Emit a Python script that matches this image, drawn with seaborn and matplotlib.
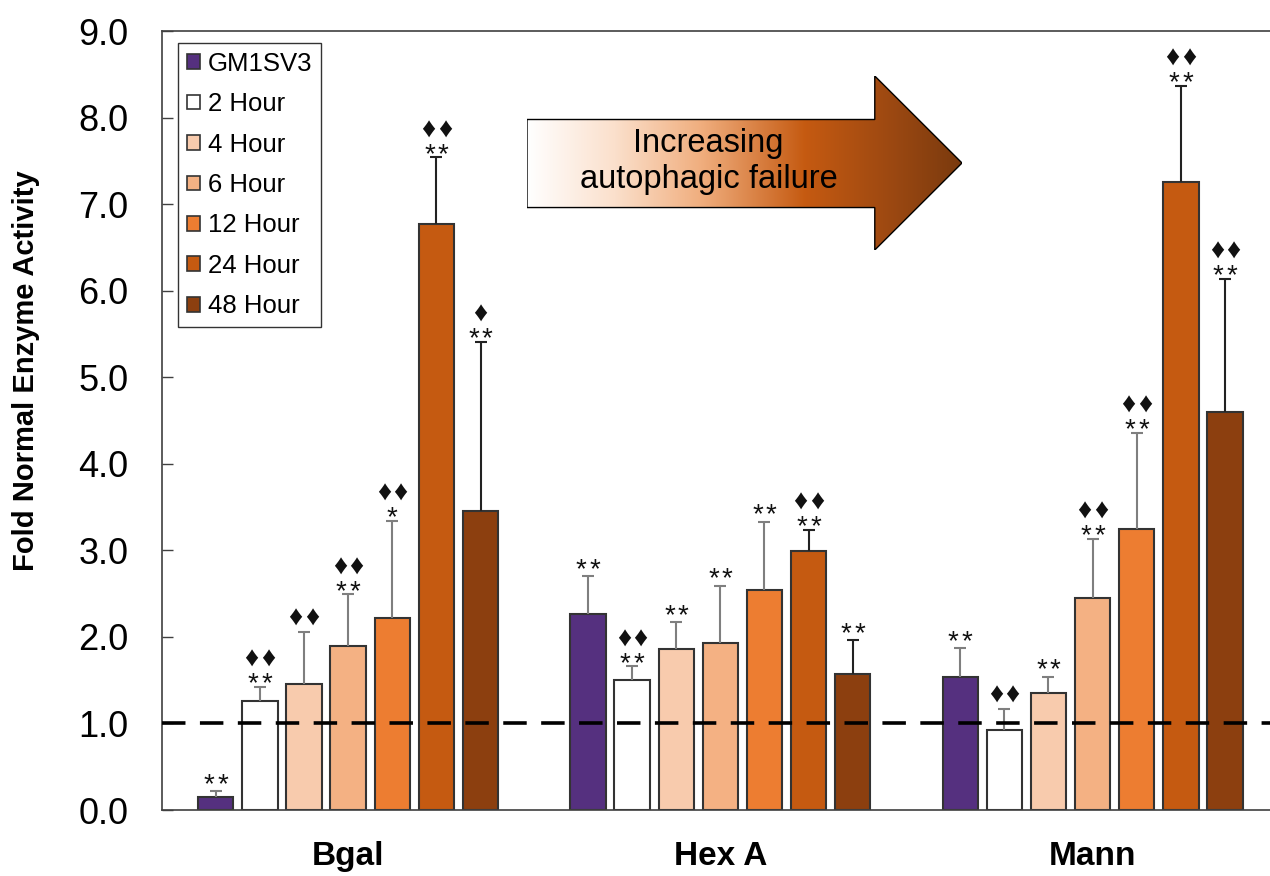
import matplotlib
matplotlib.use("Agg")
import matplotlib.pyplot as plt
import seaborn as sns
import pandas as pd
import numpy as np
from matplotlib import font_manager
from matplotlib.patches import Patch, Polygon
from matplotlib.colors import LinearSegmentedColormap

# values
enzymes = ["Bgal", "Hex A", "Mann"]
groups = ["GM1SV3", "2 Hour", "4 Hour", "6 Hour", "12 Hour", "24 Hour", "48 Hour"]
colors = ["#55307F", "#FFFFFF", "#F8CBAD", "#F4B183", "#ED7D31", "#C55A11", "#8C3F0F"]

bgal_vals = [0.15, 1.26, 1.46, 1.89, 2.22, 6.77, 3.45]
hexa_vals = [2.27, 1.50, 1.86, 1.93, 2.54, 2.99, 1.57]
mann_vals = [1.54, 0.93, 1.35, 2.45, 3.25, 7.25, 4.60]

bgal_err = [0.07, 0.16, 0.60, 0.60, 1.12, 0.77, 1.96]
hexa_err = [0.43, 0.16, 0.31, 0.66, 0.79, 0.25, 0.39]
mann_err = [0.33, 0.24, 0.19, 0.68, 1.11, 1.12, 1.54]

# significance marks: stars = vs normal, diamonds = vs GM1SV3
bgal_stars = ["**", "**", "", "**", "*", "**", "**"]
hexa_stars = ["**", "**", "**", "**", "**", "**", "**"]
mann_stars = ["**", "", "**", "**", "**", "**", "**"]
bgal_dia = ["", "♦♦", "♦♦", "♦♦", "♦♦", "♦♦", "♦"]
hexa_dia = ["", "♦♦", "", "", "", "♦♦", ""]
mann_dia = ["", "♦♦", "", "♦♦", "♦♦", "♦♦", "♦♦"]

all_vals = [bgal_vals, hexa_vals, mann_vals]
all_err = [bgal_err, hexa_err, mann_err]
all_stars = [bgal_stars, hexa_stars, mann_stars]
all_dia = [bgal_dia, hexa_dia, mann_dia]

rows = []
for enz, vals in zip(enzymes, all_vals):
    for grp, v in zip(groups, vals):
        rows.append({"enzyme": enz, "group": grp, "value": v})
df = pd.DataFrame(rows)

sns.set_style("ticks")
plt.rcParams['font.family'] = ['Liberation Sans', 'DejaVu Sans']
plt.rcParams['text.color'] = 'black'
plt.rcParams['axes.labelcolor'] = 'black'
plt.rcParams['xtick.color'] = 'black'
plt.rcParams['ytick.color'] = 'black'

# narrow bold face for the y label if it is there
try:
    font_manager.findfont(font_manager.FontProperties(family="Liberation Sans Narrow", weight="bold"),
                          fallback_to_default=False)
    ylabel_family = "Liberation Sans Narrow"
    ylabel_size = 25
except Exception:
    ylabel_family = "Liberation Sans"
    ylabel_size = 21


def put_marks(ax, x, y, marks, dy, size, sep):
    # one text per symbol so the spacing can follow the reference
    n = len(marks)
    for k, ch in enumerate(marks):
        dx = (k - (n - 1) / 2) * sep
        ax.annotate(ch, (x, y), xytext=(dx, dy), textcoords="offset points",
                    ha="center", va="center", fontsize=size, color="#111111")


fig = plt.figure(figsize=(12.7, 8.76), dpi=100)
ax = fig.add_axes([162 / 1270, 1 - 810 / 876, (1275 - 162) / 1270, (810 - 31) / 876])

sns.barplot(data=df, x="enzyme", y="value", hue="group", order=enzymes, hue_order=groups,
            palette=colors, saturation=1, width=0.83, gap=0.2, errorbar=None,
            edgecolor="#333333", linewidth=1.5, legend=False, ax=ax, zorder=2)

# upper-only error bars and significance marks, placed on the drawn bars
bar_containers = list(ax.containers)
for h, container in enumerate(bar_containers):
    ecol = "#222222" if h >= 5 else "#7F7F7F"
    for j, bar in enumerate(container):
        x = bar.get_x() + bar.get_width() / 2
        top = bar.get_height()
        err = all_err[j][h]
        eb = ax.errorbar(x, top, yerr=[[0], [err]], fmt="none", ecolor=ecol,
                         elinewidth=1.5, capsize=4, capthick=1.5, zorder=3)
        eb[1][0].remove()  # drop the cap that would sit on the bar top
        star = all_stars[j][h]
        dia = all_dia[j][h]
        if star and dia:
            put_marks(ax, x, top + err, star, 1.8, 20, 9.8)
            put_marks(ax, x, top + err, dia, 19.5, 20, 12)
        elif star:
            put_marks(ax, x, top + err, star, 4.5, 20, 9.8)
        elif dia:
            put_marks(ax, x, top + err, dia, 9.5, 20, 12)

ax.axhline(1.0, color="black", lw=2.6, dashes=(6.5, 4), zorder=5)

ax.set_xlim(-0.5, 2.49)
ax.set_ylim(0, 9)
ax.set_yticks(np.arange(0, 9.5, 1.0))
ax.set_yticklabels([f"{v:.1f}" for v in np.arange(0, 9.5, 1.0)])
ax.tick_params(axis="y", direction="in", length=8, width=1, pad=24, labelsize=26, color="#404040")
ax.tick_params(axis="x", length=0, pad=22, labelsize=24)
for lab in ax.get_xticklabels():
    lab.set_fontweight("bold")
ax.set_xlabel("")
ax.set_ylabel("Fold Normal Enzyme Activity", family=ylabel_family, fontsize=ylabel_size,
              fontweight="bold", va="center")
ax.yaxis.set_label_coords(-0.122, 0.5635)

for side in ["left", "bottom", "top"]:
    ax.spines[side].set_visible(True)
    ax.spines[side].set_color("#404040")
    ax.spines[side].set_linewidth(1.2)
ax.spines["right"].set_visible(False)

handles = [Patch(facecolor=c, edgecolor="#333333", linewidth=1.2) for c in colors]
leg = ax.legend(handles, groups, loc="upper left", bbox_to_anchor=(0.0144, 0.985),
                borderaxespad=0, fontsize=18.5, handlelength=0.5, handleheight=0.5,
                handletextpad=0.3, labelspacing=0.64, borderpad=0.35,
                frameon=True, fancybox=False, framealpha=1)
leg.get_frame().set_edgecolor("#333333")
leg.get_frame().set_linewidth(1.0)

# gradient arrow "Increasing autophagic failure"
ax2 = fig.add_axes([527 / 1270, 1 - 250 / 876, 435 / 1270, 174 / 876])
ax2.set_xlim(0, 1)
ax2.set_ylim(0, 1)
ax2.axis("off")
arrow = Polygon([(0, 0.244), (0.7995, 0.244), (0.7995, 0.0), (1.0, 0.5), (0.7995, 1.0),
                 (0.7995, 0.75), (0, 0.75)], closed=True, facecolor="none",
                edgecolor="black", linewidth=1.0, zorder=3)
ax2.add_patch(arrow)
cmap = LinearSegmentedColormap.from_list(
    "fail", [(0, "#FFFFFF"), (0.2, "#FBE0CC"), (0.4, "#F0AE7E"), (0.64, "#C55A11"),
             (0.82, "#A04A12"), (1.0, "#7A3A0E")])
grad = np.linspace(0, 1, 256).reshape(1, -1)
im = ax2.imshow(grad, cmap=cmap, extent=[0, 1, 0, 1], aspect="auto", origin="lower", zorder=2)
im.set_clip_path(arrow)
ax2.text(0.417, 0.51, "Increasing\nautophagic failure", ha="center", va="center",
         fontsize=23.5, color="black", zorder=4)

fig.savefig("out.png", dpi=100)
